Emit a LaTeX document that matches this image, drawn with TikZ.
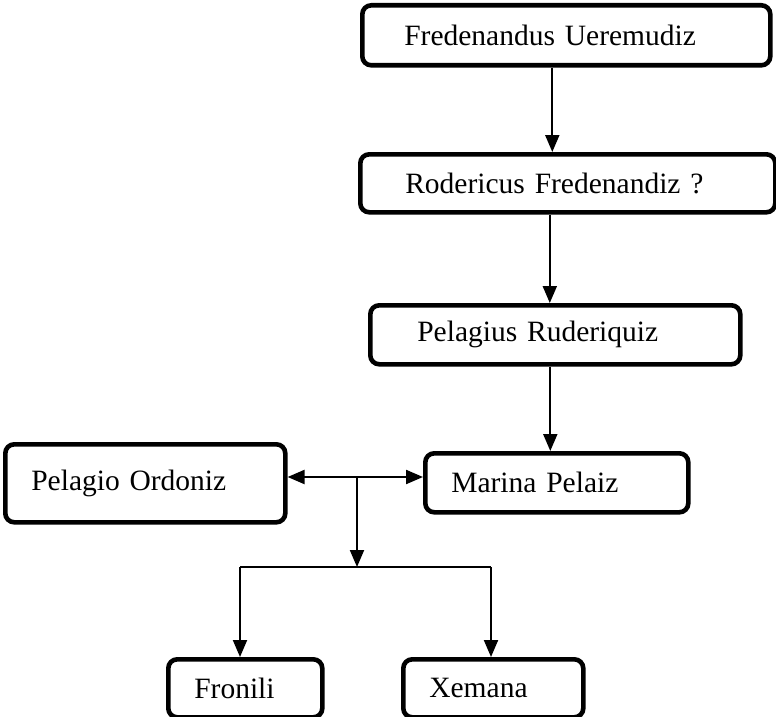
\documentclass[tikz,border=0pt]{standalone}
\usepackage{fontspec}
\setmainfont{Liberation Serif}
\usepackage{tikz}
\usetikzlibrary{arrows.meta, positioning}
\tikzset{
  %% ── Boxes ────────────────────────────────────────────────────────────
  %% One weight only: every person sits in the same thick rounded box, the
  %% name set flush left after a fixed indent.
  personne/.style   = {draw=black, line width=4.6pt, rounded corners=9pt,
                       fill=white, anchor=north west, align=left,
                       font=\fontsize{29.5}{34}\selectfont},
  %%
  %% ── Arrows ───────────────────────────────────────────────────────────
  filiation/.style  = {-{Triangle[length=17pt, width=14pt]}, draw=black,
                       line width=2pt},
  union/.style      = {{Triangle[length=17pt, width=14pt]}-{Triangle[length=17pt, width=14pt]},
                       draw=black, line width=2.2pt},
  trait/.style      = {draw=black, line width=1.6pt},
}

\begin{document}
\begin{tikzpicture}[x=1pt, y=-1pt]
\useasboundingbox (0,0) rectangle (776,717);

\node[personne, minimum height=60pt, text width=324pt, inner xsep=42pt] (fred) at (360, 3)
     {Fredenandus Ueremudiz};
\node[personne, minimum height=58pt, text width=325pt, inner xsep=45pt] (rod) at (358, 152)
     {Rodericus Fredenandiz ?};
\node[personne, minimum height=59pt, text width=276pt, inner xsep=47pt] (pelagius) at (368, 303)
     {Pelagius Ruderiquiz};

\node[personne, minimum height=78pt, text width=228pt, inner xsep=26pt] (ordoniz) at (3, 442)
     {Pelagio Ordoniz};
\node[personne, minimum height=59pt, text width=211pt, inner xsep=26pt] (marina) at (423, 451)
     {Marina Pelaiz};

\node[personne, minimum height=58pt, text width=102pt, inner xsep=26pt] (fronili) at (166, 657)
     {Fronili};
\node[personne, minimum height=58pt, text width=128pt, inner xsep=26pt] (xemana) at (401, 657)
     {Xemana};

\coordinate (mariage) at (357, 477);
\coordinate (fratrie) at (357, 567);
\coordinate (gauche)  at (240, 567);
\coordinate (droite)  at (491, 567);

\draw[filiation] ([xshift=-14pt]fred.south) -- ([xshift=-14pt]fred.south |- rod.north);
\draw[filiation] ([xshift=-18pt]rod.south) -- ([xshift=-18pt]rod.south |- pelagius.north);
\draw[filiation] ([xshift=-5pt]pelagius.south) -- ([xshift=-5pt]pelagius.south |- marina.north);

\draw[union] (ordoniz.east |- mariage) -- (marina.west |- mariage);
\draw[filiation] (mariage) -- (fratrie);
\draw[trait] (gauche) -- (droite);
\draw[filiation] (gauche) -- (gauche |- fronili.north);
\draw[filiation] (droite) -- (droite |- xemana.north);

\end{tikzpicture}
\end{document}
